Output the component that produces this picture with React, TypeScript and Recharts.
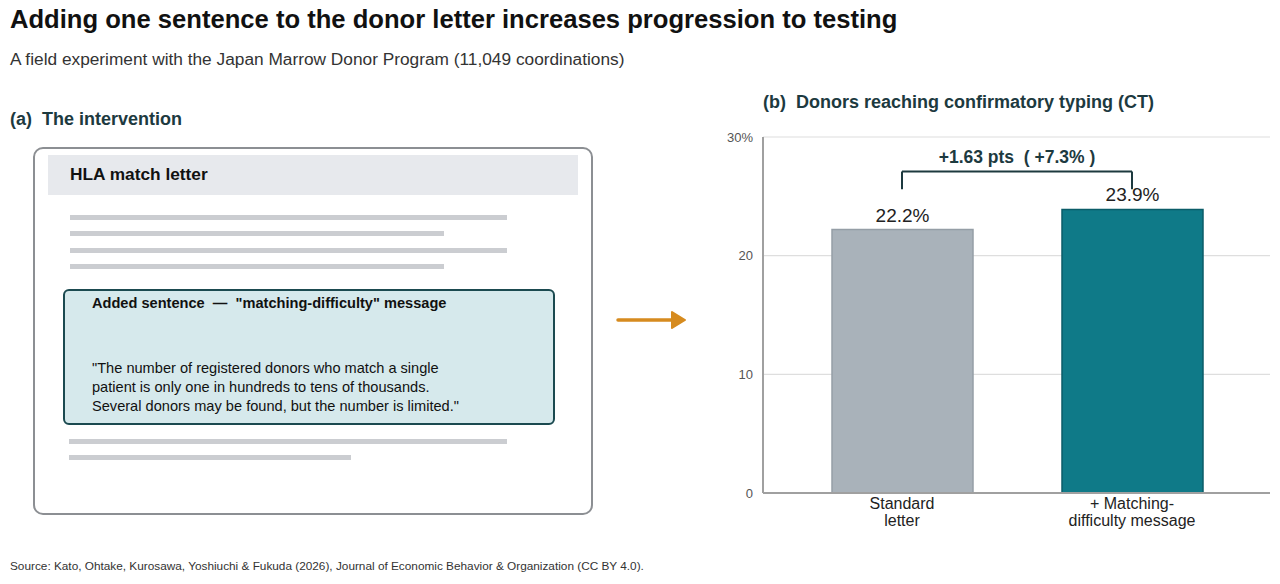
import React from "react";
import {
  BarChart,
  Bar,
  XAxis,
  YAxis,
  CartesianGrid,
  Cell,
  LabelList,
  ReferenceLine,
} from "recharts";

const categories = ["Standard letter", "+ Matching-difficulty message"];
const tickLines = [
  ["Standard", "letter"],
  ["+ Matching-", "difficulty message"],
];
const ctRate = [22.2, 23.9];
const barColors = ["#a9b2ba", "#0f7a88"];
const barStrokes = ["#959ea6", "#0b5c68"];
const yTicks = [0, 10, 20, 30];
const bracketLabel = "+1.63 pts\u00a0\u00a0( +7.3% )";

const quoteLines = [
  "\"The number of registered donors who match a single",
  "patient is only one in hundreds to tens of thousands.",
  "Several donors may be found, but the number is limited.\"",
];

const chartData = categories.map((name, i) => ({
  name,
  value: ctRate[i],
  lines: tickLines[i],
}));

const FONT = "'Liberation Sans', Arial, Helvetica, sans-serif";
const DARK = "#1d3a3f";

function CategoryTick(props: any) {
  const { x, y, payload, index } = props;
  const lines = tickLines[index] || [payload.value];
  return (
    <g transform={`translate(${x},${y})`}>
      {lines.map((l: string, i: number) => (
        <text
          key={i}
          x={0}
          y={8 + i * 17}
          textAnchor="middle"
          fontSize={16}
          fill="#222"
          fontFamily={FONT}
        >
          {l}
        </text>
      ))}
    </g>
  );
}

function GrayLine({ top, left, width }: { top: number; left: number; width: number }) {
  return (
    <div
      style={{
        position: "absolute",
        top,
        left,
        width,
        height: 5,
        background: "#cbcdd1",
      }}
    />
  );
}

export default function App() {
  return (
    <div
      style={{
        position: "absolute",
        left: 0,
        top: 0,
        width: 1280,
        height: 584,
        background: "#fff",
        fontFamily: FONT,
        overflow: "hidden",
      }}
    >
      <div style={{ position: "absolute", left: 10, top: 5, fontSize: 25.6, fontWeight: 700, color: "#111" }}>
        Adding one sentence to the donor letter increases progression to testing
      </div>
      <div style={{ position: "absolute", left: 10, top: 49, fontSize: 17.3, color: "#333" }}>
        A field experiment with the Japan Marrow Donor Program (11,049 coordinations)
      </div>

      {/* panel a */}
      <div style={{ position: "absolute", left: 10, top: 109, fontSize: 18, fontWeight: 700, color: DARK }}>
        (a)&nbsp; The intervention
      </div>
      <div
        style={{
          position: "absolute",
          left: 33,
          top: 147,
          width: 556,
          height: 364,
          border: "2px solid #8c8f93",
          borderRadius: 10,
        }}
      />
      <div style={{ position: "absolute", left: 48, top: 155, width: 530, height: 40, background: "#e7e9ed" }} />
      <div style={{ position: "absolute", left: 70, top: 164, fontSize: 17.3, fontWeight: 700, color: "#111" }}>
        HLA match letter
      </div>
      <GrayLine top={215} left={70} width={437} />
      <GrayLine top={231} left={70} width={374} />
      <GrayLine top={248} left={70} width={437} />
      <GrayLine top={264} left={70} width={374} />
      <div
        style={{
          position: "absolute",
          left: 63,
          top: 289,
          width: 488,
          height: 132,
          background: "#d6e9ec",
          border: "2px solid #1b4a50",
          borderRadius: 6,
        }}
      />
      <div style={{ position: "absolute", left: 92, top: 295, fontSize: 14.6, fontWeight: 700, color: "#111" }}>
        Added sentence&nbsp; —&nbsp; "matching-difficulty" message
      </div>
      {quoteLines.map((l, i) => (
        <div
          key={i}
          style={{ position: "absolute", left: 92, top: 360 + i * 19, fontSize: 14.6, color: "#111" }}
        >
          {l}
        </div>
      ))}
      <GrayLine top={439} left={69} width={438} />
      <GrayLine top={455} left={69} width={282} />

      <svg style={{ position: "absolute", left: 610, top: 305 }} width={90} height={30}>
        <line x1={8} y1={15} x2={66} y2={15} stroke="#d68b1f" strokeWidth={3.5} strokeLinecap="round" />
        <polygon points="62,7 75,15 62,23" fill="#d68b1f" stroke="#d68b1f" strokeWidth={2} strokeLinejoin="round" />
      </svg>

      {/* panel b */}
      <div style={{ position: "absolute", left: 763, top: 92, fontSize: 18, fontWeight: 700, color: DARK }}>
        (b)&nbsp; Donors reaching confirmatory typing (CT)
      </div>
      <div style={{ position: "absolute", left: 700, top: 110 }}>
        <BarChart
          width={580}
          height={440}
          data={chartData}
          margin={{ top: 27, right: 10, bottom: 7, left: 0 }}
        >
          <CartesianGrid vertical={false} stroke="#dedede" strokeWidth={1.2} />
          <XAxis
            dataKey="name"
            padding={{ left: 24, right: 23 }}
            tickLine={false}
            axisLine={{ stroke: "#a0a0a0", strokeWidth: 2 }}
            tick={<CategoryTick />}
            interval={0}
            height={50}
          />
          <YAxis
            domain={[0, 30]}
            ticks={yTicks}
            width={63}
            tickLine={false}
            axisLine={{ stroke: "#a0a0a0", strokeWidth: 2 }}
            tick={{ fill: "#555", fontSize: 13, fontFamily: FONT }}
            tickMargin={4}
            tickFormatter={(v: number) => (v === 30 ? "30%" : String(v))}
          />
          <Bar dataKey="value" barSize={141} isAnimationActive={false}>
            {chartData.map((d, i) => (
              <Cell key={d.name} fill={barColors[i]} stroke={barStrokes[i]} strokeWidth={1.5} />
            ))}
            <LabelList
              dataKey="value"
              position="top"
              offset={8}
              formatter={(v: any) => `${Number(v).toFixed(1)}%`}
              style={{ fill: "#222", fontSize: 19, fontFamily: FONT }}
            />
          </Bar>
          <ReferenceLine
            segment={[
              { x: categories[0], y: 27.1 },
              { x: categories[1], y: 27.1 },
            ]}
            stroke={DARK}
            strokeWidth={2}
            ifOverflow="visible"
            label={{
              value: bracketLabel,
              position: "top",
              offset: 8,
              fill: DARK,
              fontSize: 17.5,
              fontWeight: 700,
              fontFamily: FONT,
            }}
          />
          <ReferenceLine
            segment={[
              { x: categories[0], y: 27.1 },
              { x: categories[0], y: 25.6 },
            ]}
            stroke={DARK}
            strokeWidth={2}
            ifOverflow="visible"
          />
          <ReferenceLine
            segment={[
              { x: categories[1], y: 27.1 },
              { x: categories[1], y: 25.6 },
            ]}
            stroke={DARK}
            strokeWidth={2}
            ifOverflow="visible"
          />
        </BarChart>
      </div>

      <div style={{ position: "absolute", left: 10, top: 559, fontSize: 11.8, color: "#333" }}>
        Source: Kato, Ohtake, Kurosawa, Yoshiuchi &amp; Fukuda (2026), Journal of Economic Behavior &amp; Organization (CC BY 4.0).
      </div>
    </div>
  );
}
